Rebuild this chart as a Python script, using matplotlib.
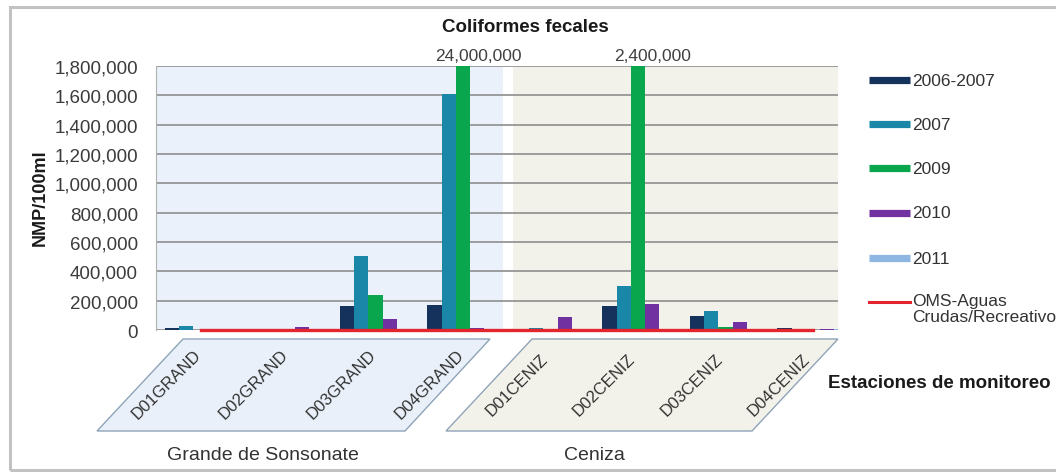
import matplotlib
matplotlib.use('Agg')
import matplotlib.pyplot as plt
import matplotlib.transforms as mtransforms
from matplotlib.lines import Line2D
from matplotlib.patches import Polygon, Rectangle
from matplotlib.ticker import FuncFormatter
import numpy as np

plt.rcParams['font.family'] = ['Liberation Sans', 'DejaVu Sans']

# Data (NMP/100ml)
stations = ['D01GRAND', 'D02GRAND', 'D03GRAND', 'D04GRAND',
            'D01CENIZ', 'D02CENIZ', 'D03CENIZ', 'D04CENIZ']
rivers = ['Grande de Sonsonate', 'Ceniza']
series_labels = ['2006-2007', '2007', '2009', '2010', '2011']
v_2006_2007 = [12000, 0, 165000, 170000, 3000, 165000, 95000, 15000]
v_2007 = [30000, 2000, 505000, 1610000, 15000, 300000, 130000, 5000]
v_2009 = [2000, 1000, 240000, 24000000, 8000, 2400000, 20000, 2000]
v_2010 = [1000, 20000, 75000, 15000, 90000, 178000, 55000, 5000]
v_2011 = [1000, 3000, 5000, 2000, 5000, 2000, 5000, 4000]
oms_limit = [1000] * 8
oms_label = 'OMS-Aguas\nCrudas/Recreativos'
y_max = 1800000

colors = ['#14325c', '#1a86a8', '#0aa64e', '#7231a1', '#8db6e3']
oms_color = '#e3262d'

W, H = 1056, 477


def fx(x):
    return x / W


def fy(y):
    return 1 - y / H


fig = plt.figure(figsize=(W / 100, H / 100), dpi=100)
fig.patch.set_facecolor('white')

# outer frame
fig.add_artist(Rectangle((fx(10), fy(471)), fx(1060 - 10), fy(8) - fy(471),
                         transform=fig.transFigure, fill=False,
                         edgecolor='#c2c2c2', linewidth=2.2, zorder=-2))

# category label floors (drawn in pixel space, behind the axes)
floors = [
    ([(97, 432), (405, 432), (490, 340), (183, 340)], '#e9f0f9'),
    ([(446, 432), (752, 432), (838, 340), (532, 340)], '#f3f2ea'),
]
for pts, fc in floors:
    fig.add_artist(Polygon([(fx(a), fy(b)) for a, b in pts], closed=True,
                           transform=fig.transFigure, facecolor=fc,
                           edgecolor='#8fa4b8', linewidth=1.0, zorder=-1))

ax = fig.add_axes([fx(156), fy(331), fx(838 - 156), fy(67) - fy(331)])
ax.set_facecolor('white')

x = np.arange(len(stations))
bw = 0.163
all_series = [v_2006_2007, v_2007, v_2009, v_2010, v_2011]

# panel backgrounds
ax.axvspan(-0.6, 3.46, color='#eaf1fa', zorder=0, lw=0)
ax.axvspan(3.57, 7.5, color='#f3f2ea', zorder=0, lw=0)

for k, (vals, c) in enumerate(zip(all_series, colors)):
    ax.bar(x + (k - 2) * bw, vals, width=bw, color=c, zorder=2)
    for i, v in enumerate(vals):
        if v > y_max:
            ax.annotate(f'{v:,}', xy=(x[i] + (k - 2) * bw, y_max),
                        xytext=(15, 10), textcoords='offset pixels',
                        ha='center', va='center', fontsize=12.5,
                        color='#404040', annotation_clip=False)

ax.plot(x, oms_limit, color=oms_color, linewidth=2.4, zorder=3, clip_on=False)

ax.set_xlim(-0.509, 7.286)
ax.set_ylim(0, y_max)
ax.set_yticks(range(0, y_max + 1, 200000))
ax.yaxis.set_major_formatter(FuncFormatter(lambda v, p: f'{v:,.0f}'))
ax.tick_params(axis='y', length=0, pad=13, labelsize=13.5, labelcolor='#3c3c3c')
ax.set_xticks([])
ax.set_axisbelow(True)
ax.yaxis.grid(True, color='#8e8e8e', linewidth=1.2, zorder=0.5)
for side in ['top', 'right', 'bottom']:
    ax.spines[side].set_visible(False)
ax.spines['left'].set_color('#b0b0b0')
ax.spines['left'].set_linewidth(0.8)

# station labels on the floors
blend = mtransforms.blended_transform_factory(ax.transData, fig.transFigure)
lab_trans = mtransforms.offset_copy(blend, fig=fig, x=-34, y=0, units='dots')
for i, name in enumerate(stations):
    ax.text(x[i], fy(385), name, transform=lab_trans, rotation=45,
            rotation_mode='anchor', ha='center', va='center',
            fontsize=12, color='#333333', clip_on=False, zorder=5)

# river group labels
fig.text(fx(263), fy(456), rivers[0], ha='center', va='center',
         fontsize=14, color='#333333')
fig.text(fx(594), fy(456), rivers[1], ha='center', va='center',
         fontsize=14, color='#333333')

# titles
fig.text(fx(525), fy(27), 'Coliformes fecales', ha='center', va='center',
         fontsize=13.5, fontweight='bold', color='#1a1a1a')
fig.text(fx(40), fy(198), 'NMP/100ml', ha='center', va='center',
         rotation=90, fontsize=13, fontweight='bold', color='#1a1a1a')
fig.text(fx(828), fy(384), 'Estaciones de monitoreo', ha='left',
         va='center', fontsize=13.5, fontweight='bold', color='#1a1a1a')

# legend, drawn by hand to keep the wide spacing
leg_y = [81, 125, 169, 214, 259, 303]
for yy, lab, c in zip(leg_y, series_labels, colors):
    fig.add_artist(Line2D([fx(869), fx(910)], [fy(yy), fy(yy)],
                          transform=fig.transFigure, color=c, linewidth=5.2,
                          solid_capstyle='butt'))
    fig.text(fx(912), fy(yy), lab, ha='left', va='center', fontsize=12.5,
             color='#333333')
fig.add_artist(Line2D([fx(869), fx(910)], [fy(leg_y[-1]), fy(leg_y[-1])],
                      transform=fig.transFigure, color=oms_color,
                      linewidth=2.2))
fig.text(fx(912), fy(leg_y[-1] - 9), oms_label, ha='left', va='top',
         fontsize=12.5, color='#333333', linespacing=1.05)

fig.savefig('out.png', dpi=100)
